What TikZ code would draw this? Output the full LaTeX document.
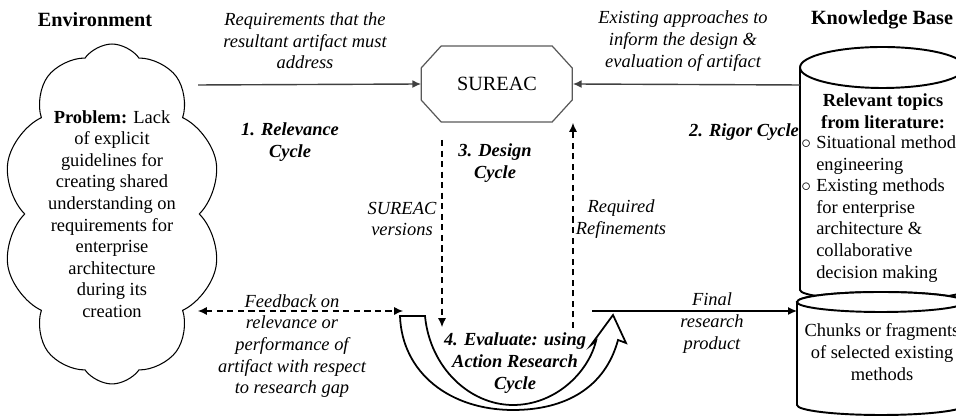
\documentclass[tikz,border=0pt]{standalone}
\usepackage{fontspec}
\setmainfont{Liberation Serif}
\usetikzlibrary{shapes.symbols,arrows.meta}

\tikzset{
  >={Latex[length=5pt,width=4.5pt]},
  heading/.style={font=\fontsize{11.5}{13}\selectfont\bfseries},
  flowtext/.style={font=\itshape, align=center, inner sep=0pt},
  cycletext/.style={font=\bfseries\itshape, align=center, inner sep=0pt},
  flowline/.style={draw=black!75, line width=0.8pt},
  dashline/.style={dash pattern=on 3.5pt off 2.5pt, line width=0.6pt},
  kbline/.style={line width=1.1pt, fill=white},
}

\begin{document}
\fontsize{10.5}{12.3}\selectfont
\begin{tikzpicture}[x=0.02cm, y=0.02cm]
  \useasboundingbox (0,0) rectangle (956,418);
  \clip (0,0) rectangle (956,418);

  % headings
  \node[heading] (env) at (95,398) {Environment};
  \node[heading] (kbase) at (882,398) {Knowledge Base};

  % problem cloud
  \node[cloud, draw, cloud puffs=10, cloud puff arc=110, cloud ignores aspect, line width=0.6pt,
        minimum width=4.15cm, minimum height=6.8cm, align=center, inner sep=0pt] (problem) at (112,204)
    {\textbf{Problem:} Lack\\ of explicit\\ guidelines for\\ creating shared\\ understanding on\\
     requirements for\\ enterprise\\ architecture\\ during its\\ creation};

  % artifact
  \node[minimum width=3.02cm, minimum height=1.52cm] (sureac) at (497,334)
    {\fontsize{11.5}{13}\selectfont SUREAC};
  \draw[black!65, line width=0.7pt] (sureac.west) ++(0,16) -- ++(20,22) -- ++(111,0) -- ++(20,-22)
    -- ++(0,-32) -- ++(-20,-22) -- ++(-111,0) -- ++(-20,22) -- cycle;

  % knowledge base
  \draw[kbline] (800,350.5) -- (800,128) arc[start angle=180, end angle=360, x radius=82.5, y radius=10]
    -- (965,350.5);
  \draw[kbline] (882.5,350.5) ellipse[x radius=82.5, y radius=20.5];
  \draw[kbline] (797,116) -- (797,13) arc[start angle=180, end angle=360, x radius=84, y radius=10]
    -- (965,116) arc[start angle=0, end angle=180, x radius=84, y radius=10] -- cycle;
  \draw[kbline] (881,116) ellipse[x radius=84, y radius=10];

  \node[font=\bfseries, align=center, inner sep=0pt] (topics) at (883,307) {Relevant topics\\ from literature:};
  \node[anchor=west, inner sep=0pt] (topiclist) at (801,209) {%
    \begin{tabular}{@{}l@{\hspace{3pt}}l@{}}
      $\circ$ & Situational methods\\
              & engineering\\
      $\circ$ & Existing methods\\
              & for enterprise\\
              & architecture \&\\
              & collaborative\\
              & decision making
    \end{tabular}};
  \node[align=center, inner sep=0pt] (chunks) at (882,66) {Chunks or fragments\\ of selected existing\\ methods};

  % labels
  \node[flowtext] (reqtext) at (305,377) {Requirements that the\\ resultant artifact must\\ address};
  \node[flowtext] (exttext) at (683,377) {Existing approaches to\\ inform the design \&\\ evaluation of artifact};
  \node[cycletext] (relevance) at (290,276) {1. Relevance\\ Cycle};
  \node[cycletext] (rigor) at (744,286) {2. Rigor Cycle};
  \node[cycletext] (design) at (495,255) {3. Design\\ Cycle};
  \node[flowtext] (versions) at (402,199) {SUREAC\\ versions};
  \node[flowtext] (refine) at (621,199) {Required\\ Refinements};
  \node[flowtext] (feedback) at (292,72) {Feedback on\\ relevance or\\ performance of\\ artifact with respect\\ to research gap};
  \node[flowtext] (final) at (712,95) {Final\\ research\\ product};

  % connectors
  \coordinate (reqstart) at (198,333);
  \coordinate (kbedge) at (800,333);
  \coordinate (versionstop) at (442,278);
  \coordinate (versionsend) at (442,91);
  \coordinate (refinestart) at (573,90);
  \coordinate (refineend) at (573,295);
  \coordinate (fbleft) at (198,107);
  \coordinate (fbright) at (403,107);
  \coordinate (finalstart) at (592,107);
  \coordinate (chunksedge) at (797,107);

  \draw[flowline,->] (reqstart) -- (sureac.west);
  \draw[flowline,->] (kbedge) -- (sureac.east);
  \draw[dashline,->] (versionstop) -- (versionsend);
  \draw[dashline,->] (refinestart) -- (refineend);
  \draw[dashline,<->] (fbleft) -- (fbright);
  \draw[line width=0.8pt,->] (finalstart) -- (chunksedge);

  % evaluation cycle arrow
  \draw[line width=1pt, fill=white] (400,102) -- (425,102)
    .. controls (430,50) and (470,13) .. (513,13)
    .. controls (555,13) and (588,45) .. (596,77)
    -- (591,73) -- (613,103) -- (626,75) -- (618,78)
    .. controls (605,30) and (565,8) .. (513,8)
    .. controls (450,8) and (402,45) .. cycle;
  \node[cycletext] (evaluate) at (515,55) {4. Evaluate: using\\ Action Research\\ Cycle};
\end{tikzpicture}
\end{document}
